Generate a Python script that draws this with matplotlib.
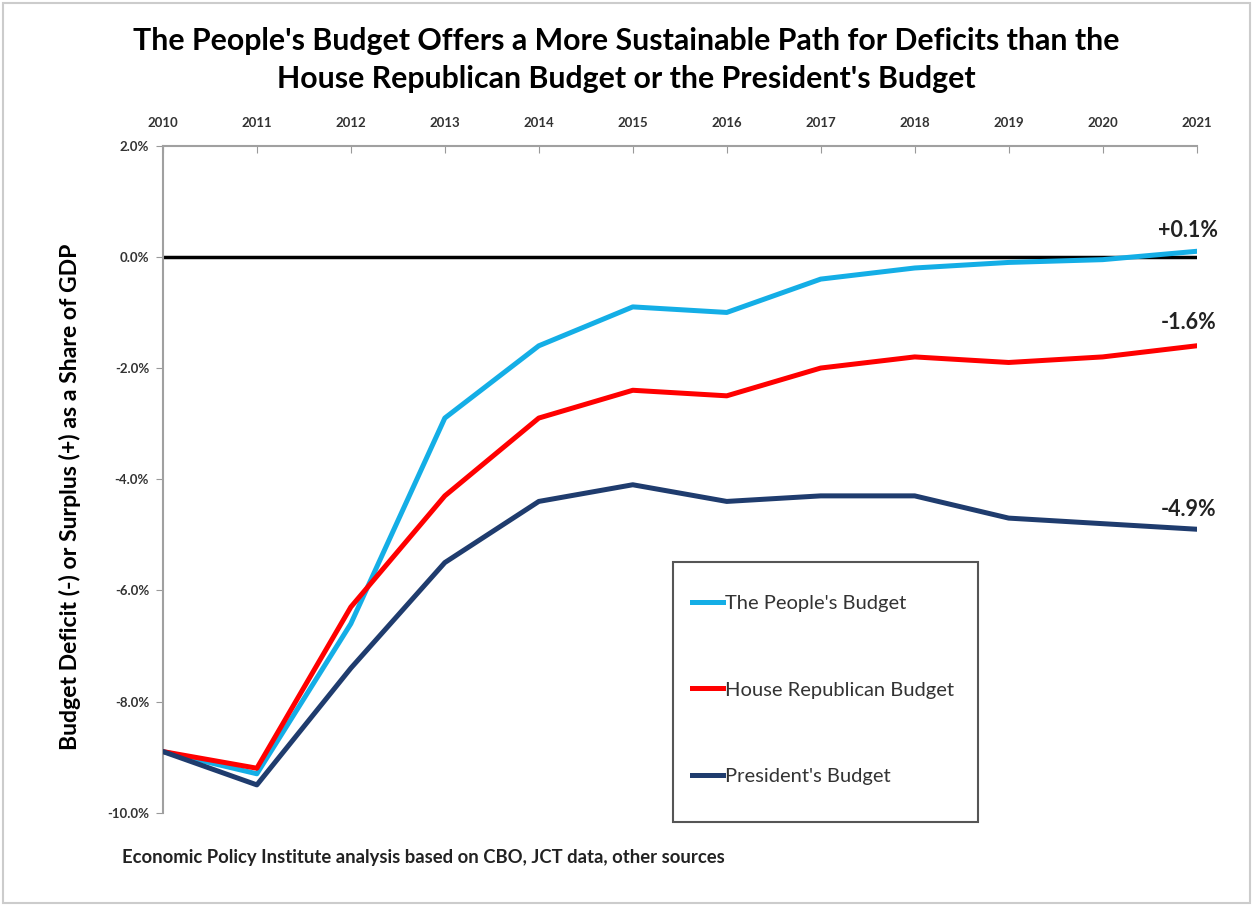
import matplotlib.pyplot as plt
from matplotlib.ticker import FuncFormatter
from matplotlib.lines import Line2D

years = [2010, 2011, 2012, 2013, 2014, 2015, 2016, 2017, 2018, 2019, 2020, 2021]
peoples = [-8.9, -9.3, -6.6, -2.9, -1.6, -0.9, -1.0, -0.4, -0.2, -0.1, -0.05, 0.1]
house_rep = [-8.9, -9.2, -6.3, -4.3, -2.9, -2.4, -2.5, -2.0, -1.8, -1.9, -1.8, -1.6]
president = [-8.9, -9.5, -7.4, -5.5, -4.4, -4.1, -4.4, -4.3, -4.3, -4.7, -4.8, -4.9]

names = ["The People's Budget", "House Republican Budget", "President's Budget"]
colors = ['#14aee6', '#ff0000', '#1f3c6e']
end_labels = ['+0.1%', '-1.6%', '-4.9%']

plt.rcParams['font.family'] = ['Lato', 'DejaVu Sans']

fig = plt.figure(figsize=(12.53, 9.05), dpi=100)
ax = fig.add_axes([0.130, 0.102, 0.825, 0.737])

ax.axhline(0, color='black', lw=2.5, zorder=2)
series = [peoples, house_rep, president]
for vals, c in zip(series, colors):
    ax.plot(years, vals, color=c, lw=3.6, solid_joinstyle='round', zorder=3)

label_dy = [15, 16.5, 14]
for vals, lab, dy in zip(series, end_labels, label_dy):
    ax.annotate(lab, (years[-1], vals[-1]), xytext=(-6, dy), textcoords='offset points',
                ha='center', va='center', fontsize=15.5, fontweight='bold',
                color='#222222', annotation_clip=False)

ax.set_xlim(2010, 2021)
ax.set_ylim(-10, 2)
ax.set_xticks(years)
ax.set_yticks([2, 0, -2, -4, -6, -8, -10])
ax.yaxis.set_major_formatter(FuncFormatter(lambda v, p: f'{v:.1f}%'))
ax.xaxis.tick_top()
ax.tick_params(axis='x', direction='in', length=5, color='#999999',
               labelsize=9.5, labelcolor='#333333', pad=12)
ax.tick_params(axis='y', direction='out', length=5, color='#999999',
               labelsize=9.5, labelcolor='#333333', pad=5)
for lab in ax.get_xticklabels() + ax.get_yticklabels():
    lab.set_fontweight('bold')

for s in ['right', 'bottom']:
    ax.spines[s].set_visible(False)
for s in ['left', 'top']:
    ax.spines[s].set_color('#a0a0a0')
    ax.spines[s].set_linewidth(1.5)

fig.text(0.056, 0.451, 'Budget Deficit (-) or Surplus (+) as a Share of GDP',
         rotation=90, ha='center', va='center', fontsize=16.6, fontweight='bold')

# legend box drawn separately so the entries can sit where the reference has them
fig.patches.append(plt.Rectangle((0.537, 0.0917), 0.2434, 0.2873, transform=fig.transFigure,
                                 fill=False, edgecolor='#555555', lw=1.5, zorder=5))
handles = [Line2D([], [], color=c, lw=3.6) for c in colors]
leg = fig.legend(handles, names, loc='center left',
                 bbox_to_anchor=(0.552, 0.2376), frameon=False,
                 fontsize=14.5, handlelength=1.55, handletextpad=0.1,
                 labelspacing=3.45, borderpad=0, borderaxespad=0)
for t in leg.get_texts():
    t.set_color('#333333')

fig.text(0.5, 0.955, "The People's Budget Offers a More Sustainable Path for Deficits than the",
         ha='center', va='center', fontsize=21.8, fontweight='bold')
fig.text(0.5, 0.913, "House Republican Budget or the President's Budget",
         ha='center', va='center', fontsize=21.8, fontweight='bold')
fig.text(0.097, 0.052, 'Economic Policy Institute analysis based on CBO, JCT data, other sources',
         ha='left', va='center', fontsize=13.3, fontweight='bold', color='#222222')

fig.patches.append(plt.Rectangle((0.002, 0.002), 0.996, 0.995, transform=fig.transFigure,
                                 fill=False, edgecolor='#cccccc', lw=1.5))

fig.savefig('out.png', dpi=100)
